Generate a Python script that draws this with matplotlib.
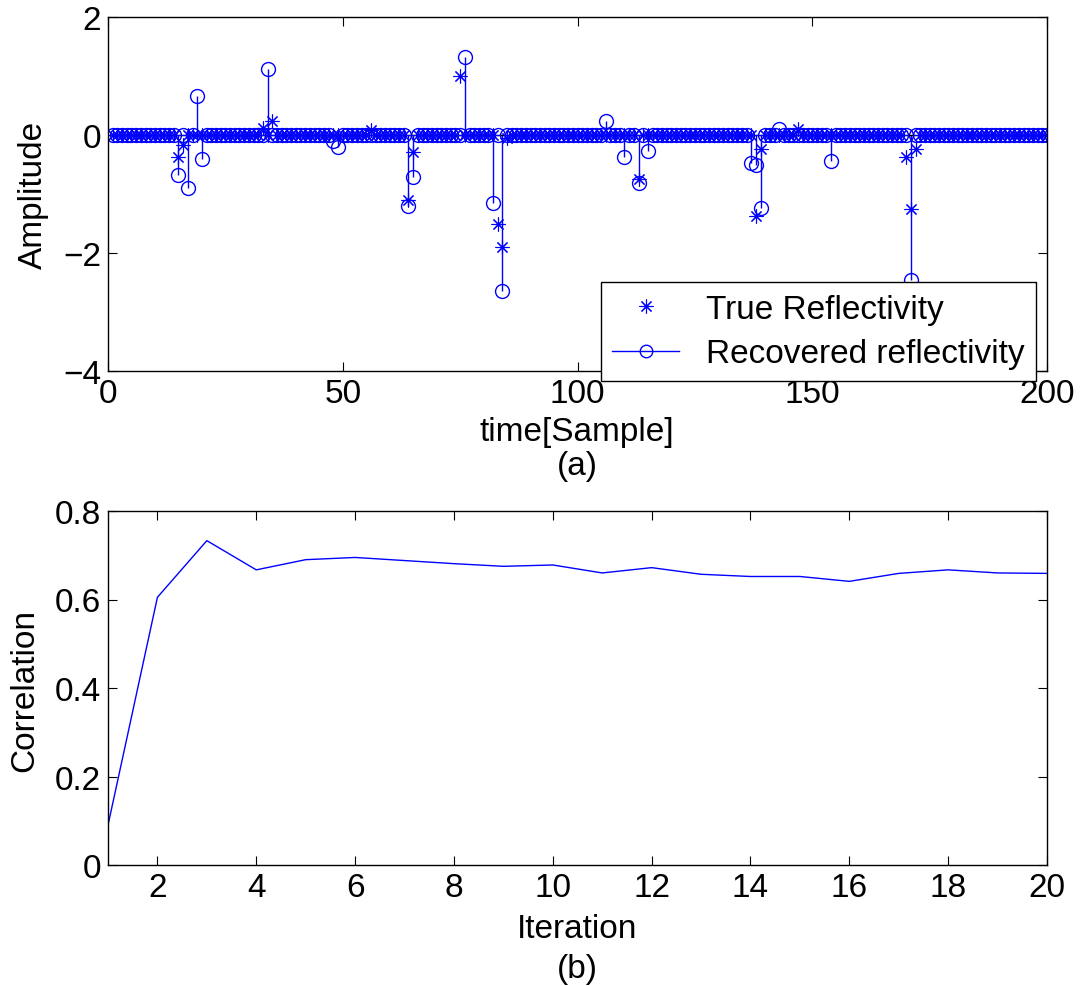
import numpy as np
import matplotlib
matplotlib.use("Agg")
import matplotlib.pyplot as plt
from matplotlib.lines import Line2D

plt.rcParams['font.family'] = ['Liberation Sans', 'DejaVu Sans']

n_samples = 200
true_idx = [15, 16, 33, 35, 56, 64, 65, 75, 83, 84, 85, 113, 138, 139, 147, 170, 171, 172]
true_val = [-0.37, -0.17, 0.12, 0.24, 0.08, -1.10, -0.29, 1.00, -1.50, -1.90, -0.05,
            -0.75, -1.37, -0.23, 0.11, -0.38, -1.25, -0.24]
rec_idx = [15, 17, 19, 20, 34, 48, 49, 64, 65, 76, 82, 84, 106, 110, 113, 115,
           137, 138, 139, 143, 154, 171]
rec_val = [-0.68, -0.89, 0.66, -0.41, 1.12, -0.11, -0.21, -1.20, -0.71, 1.32, -1.16,
           -2.64, 0.24, -0.37, -0.82, -0.27, -0.48, -0.51, -1.23, 0.11, -0.44, -2.46]

iterations = list(range(1, 21))
correlation = [0.09, 0.605, 0.733, 0.667, 0.690, 0.695, 0.688, 0.681, 0.675, 0.678,
               0.660, 0.672, 0.657, 0.652, 0.652, 0.641, 0.659, 0.667, 0.660, 0.659]

t = np.arange(1, n_samples + 1)
true_ref = np.zeros(n_samples)
true_ref[np.array(true_idx) - 1] = true_val
rec_ref = np.zeros(n_samples)
rec_ref[np.array(rec_idx) - 1] = rec_val

W, H = 1083, 987
fig = plt.figure(figsize=(W / 100, H / 100), dpi=100)
blue = (0, 0, 1)
fs = 24
star = (8, 2, 0)

def px_axes(l, r, top, bot):
    return fig.add_axes([l / W, 1 - bot / H, (r - l) / W, (bot - top) / H])

def ftext(x, y, s, **kw):
    fig.text(x / W, 1 - y / H, s, fontsize=fs, ha='center', va='center', **kw)

def style(ax):
    ax.tick_params(direction='in', top=True, right=True, labelsize=fs, length=6.5, width=0.8)
    ax.tick_params(axis='x', pad=5)
    ax.tick_params(axis='y', pad=5)
    for s in ax.spines.values():
        s.set_linewidth(1.0)

# Top panel
ax1 = px_axes(108, 1047, 18, 372)
ml, sl, bl = ax1.stem(t, rec_ref, linefmt='-', markerfmt='o', basefmt='k-')
plt.setp(sl, color=blue, linewidth=1.0)
plt.setp(ml, color=blue, markerfacecolor='none', markeredgecolor=blue, markersize=10, markeredgewidth=1.0)
plt.setp(bl, color='black', linewidth=1.0)
ax1.plot(t, true_ref, linestyle='none', marker=star, color=blue, markersize=10,
         markeredgewidth=0.8)
ax1.set_xlim(0, 200)
ax1.set_ylim(-4, 2)
ax1.set_xticks([0, 50, 100, 150, 200])
ax1.set_yticks([-4, -2, 0, 2])
ax1.set_yticklabels(['\u22124', '\u22122', '0', '2'])
style(ax1)
ftext(33, 195, 'Amplitude', rotation=90)
ftext(577, 432, 'time[Sample]')
ftext(577, 466, '(a)')

h1 = Line2D([], [], linestyle='none', marker=star, color=blue, markersize=10,
            markeredgewidth=0.8)
h2 = Line2D([], [], linestyle='-', marker='o', color=blue, markersize=9,
            markerfacecolor='none', linewidth=1.0)
leg = fig.legend([h1, h2], ['True Reflectivity', 'Recovered reflectivity'],
                 loc='lower right', fontsize=fs, frameon=True, fancybox=False,
                 edgecolor='black', borderaxespad=0.0, handlelength=2.0,
                 bbox_to_anchor=(1036 / W, 1 - 382 / H), bbox_transform=fig.transFigure,
                 borderpad=0.35, labelspacing=0.4, handletextpad=0.8, framealpha=1)
leg.get_frame().set_linewidth(1.0)

# Bottom panel
ax2 = px_axes(108, 1047, 512, 866)
ax2.plot(iterations, correlation, color=blue, linewidth=1.0)
ax2.set_xlim(1, 20)
ax2.set_ylim(0, 0.8)
ax2.set_xticks(list(range(2, 21, 2)))
ax2.set_yticks([0, 0.2, 0.4, 0.6, 0.8])
ax2.set_yticklabels(['0', '0.2', '0.4', '0.6', '0.8'])
style(ax2)
ftext(25, 690, 'Correlation', rotation=90)
ftext(577, 930, 'Iteration')
ftext(577, 970, '(b)')

fig.savefig('out.png', dpi=100)
